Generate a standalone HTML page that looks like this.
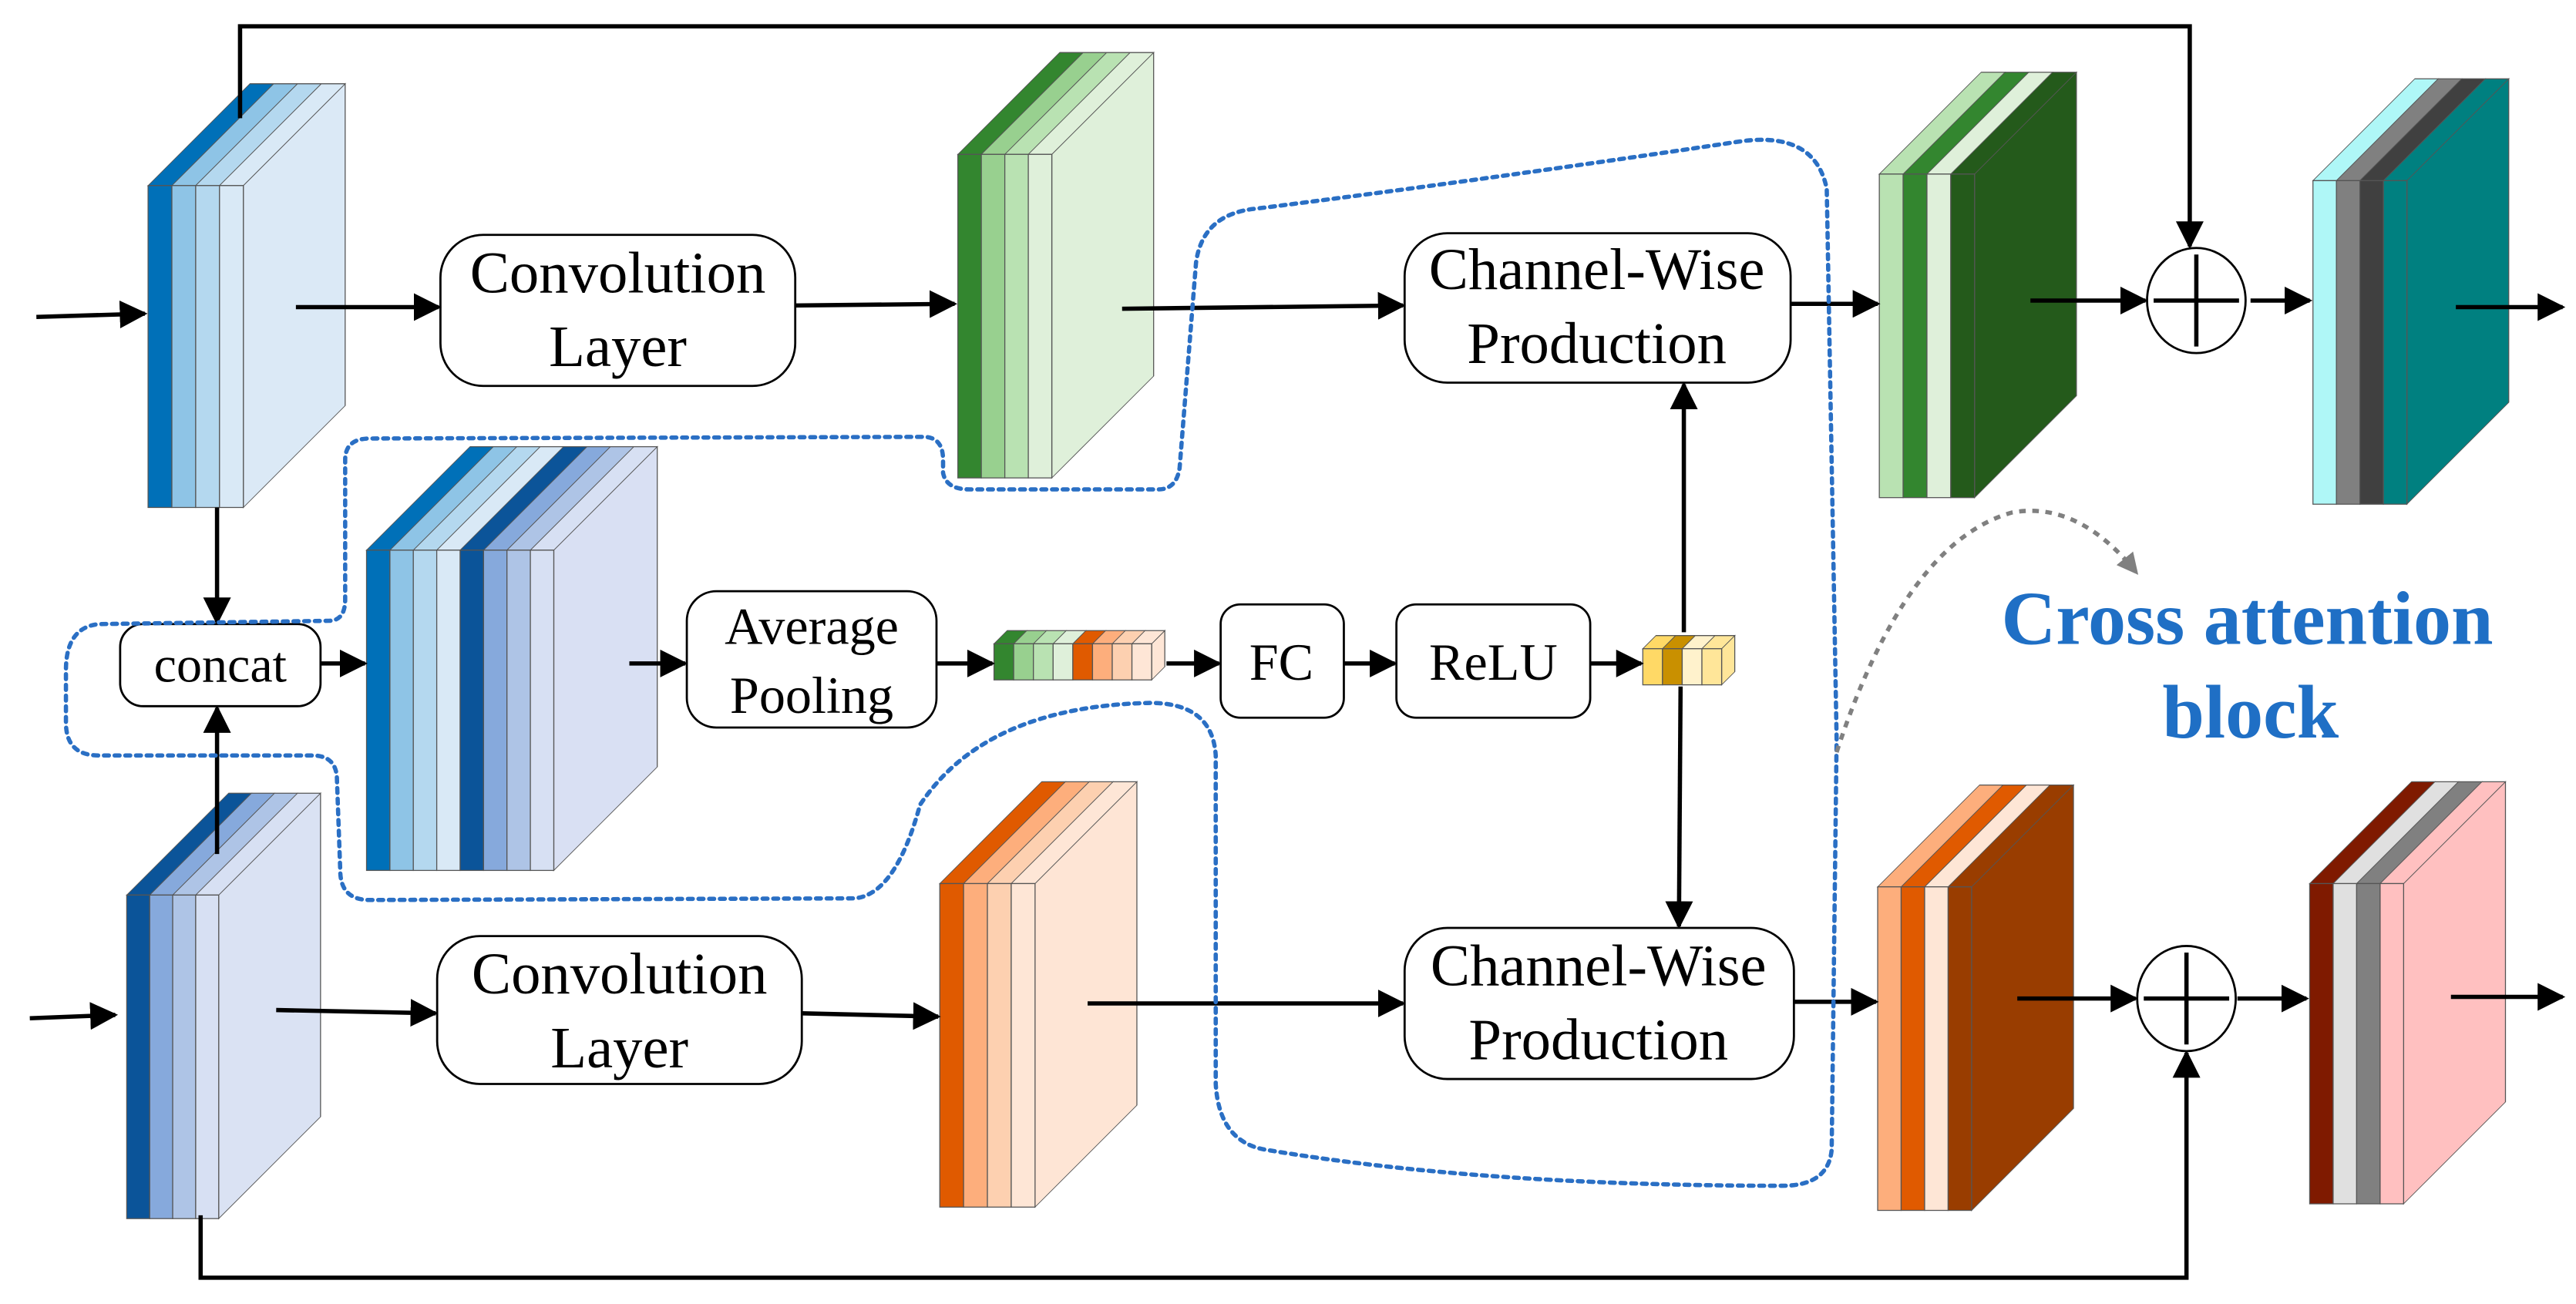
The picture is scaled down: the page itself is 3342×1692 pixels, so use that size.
<!DOCTYPE html>
<html><head><meta charset="utf-8"><style>
html,body{margin:0;padding:0;background:#fff;}
svg{display:block;}
text{font-family:"Liberation Serif",serif;}
</style></head><body>
<svg width="3342" height="1692" viewBox="0 0 1568 794" xmlns="http://www.w3.org/2000/svg">
<defs>
<marker id="a" viewBox="0 0 10 10" refX="9" refY="5" markerWidth="6.5" markerHeight="6.5" markerUnits="strokeWidth" orient="auto"><path d="M0,0L10,5L0,10z" fill="#000"/></marker>
<marker id="g" viewBox="0 0 10 10" refX="8" refY="5" markerWidth="5" markerHeight="5" markerUnits="strokeWidth" orient="auto"><path d="M0,0L10,5L0,10z" fill="#808080"/></marker>
</defs>
<g stroke="#555" stroke-width="0.6">
<!-- block1 -->
<g transform="translate(90,113)">
<g transform="translate(58,0) matrix(1,-1,0,1,0,0)"><rect width="62" height="196" fill="#dbe9f6"/></g>
<g transform="matrix(1,0,1,-1,0,0)"><rect x="0" width="14.5" height="62" fill="#0070b8"/><rect x="14.5" width="14.5" height="62" fill="#8ec4e6"/><rect x="29" width="14.5" height="62" fill="#b4d8ef"/><rect x="43.5" width="14.5" height="62" fill="#d9e9f6"/></g>
<rect x="0" width="14.5" height="196" fill="#0070b8"/><rect x="14.5" width="14.5" height="196" fill="#8ec4e6"/><rect x="29" width="14.5" height="196" fill="#b4d8ef"/><rect x="43.5" width="14.5" height="196" fill="#d9e9f6"/>
</g>
<!-- green top -->
<g transform="translate(583,94)">
<g transform="translate(57.2,0) matrix(1,-1,0,1,0,0)"><rect width="62" height="197" fill="#dff0da"/></g>
<g transform="matrix(1,0,1,-1,0,0)"><rect x="0" width="14.3" height="62" fill="#33862f"/><rect x="14.3" width="14.3" height="62" fill="#98d08f"/><rect x="28.6" width="14.3" height="62" fill="#b9e2b2"/><rect x="42.9" width="14.3" height="62" fill="#dff0da"/></g>
<rect x="0" width="14.3" height="197" fill="#33862f"/><rect x="14.3" width="14.3" height="197" fill="#98d08f"/><rect x="28.6" width="14.3" height="197" fill="#b9e2b2"/><rect x="42.9" width="14.3" height="197" fill="#dff0da"/>
</g>
<!-- concat block -->
<g transform="translate(223,335)">
<g transform="translate(114,0) matrix(1,-1,0,1,0,0)"><rect width="63" height="195" fill="#d9e0f3"/></g>
<g transform="matrix(1,0,1,-1,0,0)"><rect x="0" width="14.25" height="63" fill="#0070b8"/><rect x="14.25" width="14.25" height="63" fill="#8ec4e6"/><rect x="28.5" width="14.25" height="63" fill="#b4d8ef"/><rect x="42.75" width="14.25" height="63" fill="#d9e9f6"/><rect x="57" width="14.25" height="63" fill="#0b5499"/><rect x="71.25" width="14.25" height="63" fill="#86a9dc"/><rect x="85.5" width="14.25" height="63" fill="#aec4e6"/><rect x="99.75" width="14.25" height="63" fill="#d7e0f3"/></g>
<rect x="0" width="14.25" height="195" fill="#0070b8"/><rect x="14.25" width="14.25" height="195" fill="#8ec4e6"/><rect x="28.5" width="14.25" height="195" fill="#b4d8ef"/><rect x="42.75" width="14.25" height="195" fill="#d9e9f6"/><rect x="57" width="14.25" height="195" fill="#0b5499"/><rect x="71.25" width="14.25" height="195" fill="#86a9dc"/><rect x="85.5" width="14.25" height="195" fill="#aec4e6"/><rect x="99.75" width="14.25" height="195" fill="#d7e0f3"/>
</g>
<!-- bottom-left -->
<g transform="translate(77,545)">
<g transform="translate(56,0) matrix(1,-1,0,1,0,0)"><rect width="62" height="197" fill="#dae2f3"/></g>
<g transform="matrix(1,0,1,-1,0,0)"><rect x="0" width="14" height="62" fill="#0b5499"/><rect x="14" width="14" height="62" fill="#86a9dc"/><rect x="28" width="14" height="62" fill="#aec4e6"/><rect x="42" width="14" height="62" fill="#d7e0f3"/></g>
<rect x="0" width="14" height="197" fill="#0b5499"/><rect x="14" width="14" height="197" fill="#86a9dc"/><rect x="28" width="14" height="197" fill="#aec4e6"/><rect x="42" width="14" height="197" fill="#d7e0f3"/>
</g>
<!-- orange -->
<g transform="translate(572,538)">
<g transform="translate(58,0) matrix(1,-1,0,1,0,0)"><rect width="62" height="197" fill="#fee5d5"/></g>
<g transform="matrix(1,0,1,-1,0,0)"><rect x="0" width="14.5" height="62" fill="#e05a00"/><rect x="14.5" width="14.5" height="62" fill="#fdae7c"/><rect x="29" width="14.5" height="62" fill="#fdd0b0"/><rect x="43.5" width="14.5" height="62" fill="#fee6d6"/></g>
<rect x="0" width="14.5" height="197" fill="#e05a00"/><rect x="14.5" width="14.5" height="197" fill="#fdae7c"/><rect x="29" width="14.5" height="197" fill="#fdd0b0"/><rect x="43.5" width="14.5" height="197" fill="#fee6d6"/>
</g>
<!-- green out -->
<g transform="translate(1144,106)">
<g transform="translate(58,0) matrix(1,-1,0,1,0,0)"><rect width="62" height="197" fill="#245a1b"/></g>
<g transform="matrix(1,0,1,-1,0,0)"><rect x="0" width="14.5" height="62" fill="#b9e2b2"/><rect x="14.5" width="14.5" height="62" fill="#33862f"/><rect x="29" width="14.5" height="62" fill="#dff0da"/><rect x="43.5" width="14.5" height="62" fill="#245a1b"/></g>
<rect x="0" width="14.5" height="197" fill="#b9e2b2"/><rect x="14.5" width="14.5" height="197" fill="#33862f"/><rect x="29" width="14.5" height="197" fill="#dff0da"/><rect x="43.5" width="14.5" height="197" fill="#245a1b"/>
</g>
<!-- teal -->
<g transform="translate(1408,110)">
<g transform="translate(57.2,0) matrix(1,-1,0,1,0,0)"><rect width="62" height="197" fill="#008080"/></g>
<g transform="matrix(1,0,1,-1,0,0)"><rect x="0" width="14.3" height="62" fill="#aff7f7"/><rect x="14.3" width="14.3" height="62" fill="#808080"/><rect x="28.6" width="14.3" height="62" fill="#404040"/><rect x="42.9" width="14.3" height="62" fill="#008080"/></g>
<rect x="0" width="14.3" height="197" fill="#aff7f7"/><rect x="14.3" width="14.3" height="197" fill="#808080"/><rect x="28.6" width="14.3" height="197" fill="#404040"/><rect x="42.9" width="14.3" height="197" fill="#008080"/>
</g>
<!-- orange out -->
<g transform="translate(1143,540)">
<g transform="translate(57.2,0) matrix(1,-1,0,1,0,0)"><rect width="62" height="197" fill="#993d00"/></g>
<g transform="matrix(1,0,1,-1,0,0)"><rect x="0" width="14.3" height="62" fill="#fdae7c"/><rect x="14.3" width="14.3" height="62" fill="#e05a00"/><rect x="28.6" width="14.3" height="62" fill="#fee6d6"/><rect x="42.9" width="14.3" height="62" fill="#993d00"/></g>
<rect x="0" width="14.3" height="197" fill="#fdae7c"/><rect x="14.3" width="14.3" height="197" fill="#e05a00"/><rect x="28.6" width="14.3" height="197" fill="#fee6d6"/><rect x="42.9" width="14.3" height="197" fill="#993d00"/>
</g>
<!-- pink -->
<g transform="translate(1406,538)">
<g transform="translate(57.2,0) matrix(1,-1,0,1,0,0)"><rect width="62" height="195" fill="#ffc0c0"/></g>
<g transform="matrix(1,0,1,-1,0,0)"><rect x="0" width="14.3" height="62" fill="#7f1a00"/><rect x="14.3" width="14.3" height="62" fill="#e0e0e0"/><rect x="28.6" width="14.3" height="62" fill="#808080"/><rect x="42.9" width="14.3" height="62" fill="#ffc0c0"/></g>
<rect x="0" width="14.3" height="195" fill="#7f1a00"/><rect x="14.3" width="14.3" height="195" fill="#e0e0e0"/><rect x="28.6" width="14.3" height="195" fill="#808080"/><rect x="42.9" width="14.3" height="195" fill="#ffc0c0"/>
</g>
<!-- vector -->
<g transform="translate(605,392)">
<g transform="translate(96,0) matrix(1,-1,0,1,0,0)"><rect width="8" height="22" fill="#fee6d6"/></g>
<g transform="matrix(1,0,1,-1,0,0)"><rect x="0" width="12" height="8" fill="#33862f"/><rect x="12" width="12" height="8" fill="#98d08f"/><rect x="24" width="12" height="8" fill="#b9e2b2"/><rect x="36" width="12" height="8" fill="#dff0da"/><rect x="48" width="12" height="8" fill="#e05a00"/><rect x="60" width="12" height="8" fill="#fdae7c"/><rect x="72" width="12" height="8" fill="#fdd0b0"/><rect x="84" width="12" height="8" fill="#fee6d6"/></g>
<rect x="0" width="12" height="22" fill="#33862f"/><rect x="12" width="12" height="22" fill="#98d08f"/><rect x="24" width="12" height="22" fill="#b9e2b2"/><rect x="36" width="12" height="22" fill="#dff0da"/><rect x="48" width="12" height="22" fill="#e05a00"/><rect x="60" width="12" height="22" fill="#fdae7c"/><rect x="72" width="12" height="22" fill="#fdd0b0"/><rect x="84" width="12" height="22" fill="#fee6d6"/>
</g>
<!-- yellow -->
<g transform="translate(1000,395)">
<g transform="translate(48,0) matrix(1,-1,0,1,0,0)"><rect width="8" height="22" fill="#ffe699"/></g>
<g transform="matrix(1,0,1,-1,0,0)"><rect x="0" width="12" height="8" fill="#ffd966"/><rect x="12" width="12" height="8" fill="#c99000"/><rect x="24" width="12" height="8" fill="#fff2cc"/><rect x="36" width="12" height="8" fill="#ffe699"/></g>
<rect x="0" width="12" height="22" fill="#ffd966"/><rect x="12" width="12" height="22" fill="#c99000"/><rect x="24" width="12" height="22" fill="#fff2cc"/><rect x="36" width="12" height="22" fill="#ffe699"/>
</g>
</g>
<g fill="#fff" stroke="#000" stroke-width="1.3">
<rect x="268" y="143" width="216" height="92" rx="26"/>
<rect x="855" y="142" width="235" height="91" rx="26"/>
<rect x="266" y="570" width="222" height="90" rx="26"/>
<rect x="855" y="565" width="237" height="92" rx="26"/>
<rect x="73" y="380" width="122" height="50" rx="14"/>
<rect x="418" y="360" width="152" height="83" rx="18"/>
<rect x="743" y="368" width="75" height="69" rx="12"/>
<rect x="850" y="368" width="118" height="69" rx="12"/>
<ellipse cx="1337" cy="183" rx="30" ry="32"/>
<ellipse cx="1331" cy="608" rx="30" ry="32"/>
</g>
<g stroke="#000" stroke-width="2.6">
<line x1="1311" y1="183" x2="1363" y2="183"/><line x1="1337" y1="155" x2="1337" y2="211"/>
<line x1="1305" y1="608" x2="1357" y2="608"/><line x1="1331" y1="580" x2="1331" y2="636"/>
</g>
<g font-size="36" text-anchor="middle" fill="#000">
<text x="376" y="178">Convolution</text><text x="376" y="223">Layer</text>
<text x="972" y="176">Channel-Wise</text><text x="972" y="221">Production</text>
<text x="377" y="605">Convolution</text><text x="377" y="650">Layer</text>
<text x="973" y="600">Channel-Wise</text><text x="973" y="645">Production</text>
<text x="134" y="415" font-size="31">concat</text>
<text x="494" y="392" font-size="32">Average</text><text x="494" y="434" font-size="32">Pooling</text>
<text x="780" y="414" font-size="32">FC</text>
<text x="909" y="414" font-size="32">ReLU</text>
</g>
<g stroke="#000" stroke-width="2.6" fill="none" marker-end="url(#a)">
<line x1="22" y1="193" x2="88" y2="191"/>
<line x1="180" y1="187" x2="267" y2="187"/>
<line x1="484" y1="186" x2="581" y2="185"/>
<line x1="683" y1="188" x2="854" y2="186"/>
<line x1="1090" y1="185" x2="1143" y2="185"/>
<line x1="1236" y1="183" x2="1306" y2="183"/>
<line x1="1370" y1="183" x2="1406" y2="183"/>
<line x1="1495" y1="187" x2="1560" y2="187"/>
<line x1="18" y1="620" x2="70" y2="618"/>
<line x1="168" y1="615" x2="265" y2="617"/>
<line x1="488" y1="617" x2="571" y2="619"/>
<line x1="662" y1="611" x2="854" y2="611"/>
<line x1="1092" y1="610" x2="1142" y2="610"/>
<line x1="1228" y1="608" x2="1300" y2="608"/>
<line x1="1362" y1="608" x2="1404" y2="608"/>
<line x1="1492" y1="607" x2="1560" y2="607"/>
<line x1="132" y1="309" x2="132" y2="379"/>
<line x1="132" y1="520" x2="132" y2="431"/>
<line x1="195" y1="404" x2="222" y2="404"/>
<line x1="383" y1="404" x2="417" y2="404"/>
<line x1="570" y1="404" x2="604" y2="404"/>
<line x1="710" y1="404" x2="742" y2="404"/>
<line x1="818" y1="404" x2="849" y2="404"/>
<line x1="968" y1="404" x2="999" y2="404"/>
<line x1="1025" y1="385" x2="1025" y2="234"/>
<line x1="1023" y1="418" x2="1022" y2="564"/>
<polyline points="146,72 146,16 1333,16 1333,150"/>
<polyline points="122,740 122,778 1331,778 1331,641"/>
</g>
<path d="M40,420 L40,408 Q40,382 60,380 L200,378 Q210,378 210,365 L210,280 Q210,267 225,267 L562,266 Q574,266 574,280 L574,288 Q576,298 590,298 L705,298 Q716,298 718,285 L728,160 Q732,130 765,127 Q900,110 1060,86 Q1105,80 1112,115 L1118,450 L1115,700 Q1113,722 1085,722 Q900,722 770,700 Q742,695 740,660 L740,460 Q738,428 700,428 Q600,430 560,490 Q545,545 520,547 L225,548 Q207,548 207,530 L205,475 Q205,460 190,460 L60,460 Q40,460 40,440 Z" fill="none" stroke="#2a6fc4" stroke-width="2.6" stroke-dasharray="3,3.5" stroke-linecap="round"/>
<path d="M1118,458 Q1160,330 1225,312 Q1265,305 1300,348" fill="none" stroke="#808080" stroke-width="2.6" stroke-dasharray="4,4" marker-end="url(#g)"/>
<g font-size="46" font-weight="bold" fill="#1f6fc5" text-anchor="middle">
<text x="1368" y="392">Cross attention</text>
<text x="1370" y="449">block</text>
</g>
</svg>
</body></html>
